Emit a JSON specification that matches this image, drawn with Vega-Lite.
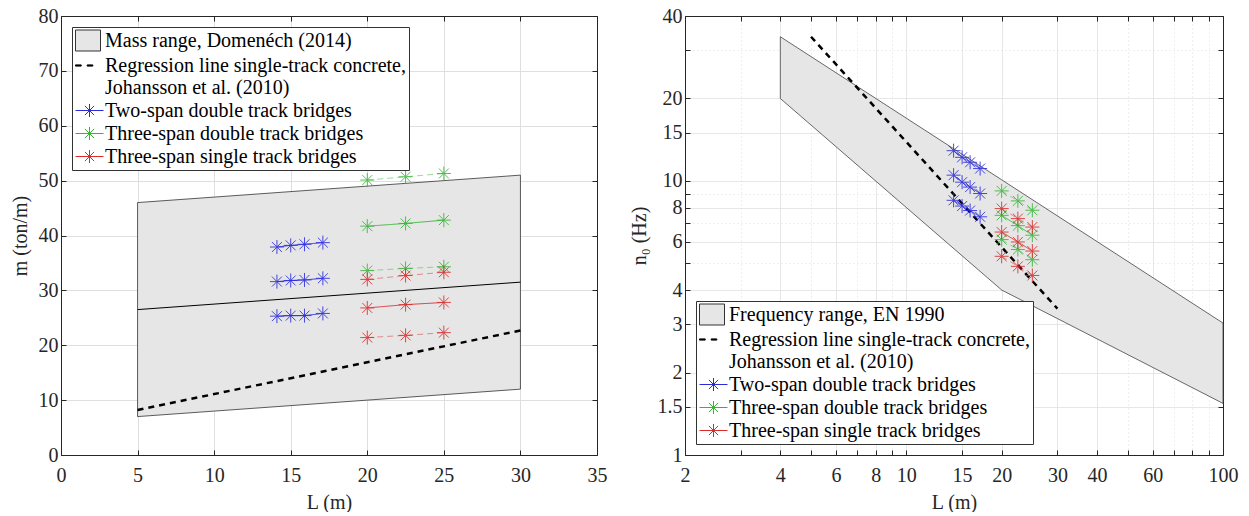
{
  "$schema": "https://vega.github.io/schema/vega-lite/v6.json",
  "padding": {"left": 10, "top": 6, "right": 5, "bottom": 0},
  "background": "white",
  "spacing": 22,
  "datasets": {
    "massRange": [
      {"L": 5, "upper": 46, "lower": 7},
      {"L": 30, "upper": 51, "lower": 12}
    ],
    "massMid": [
      {"L": 5, "m": 26.5},
      {"L": 30, "m": 31.5}
    ],
    "massReg": [
      {"L": 5, "m": 8.2},
      {"L": 30, "m": 22.7}
    ],
    "massPts": [
      {"series": "Two-span double track bridges", "mass": "low", "row": "b-low", "L": 14.1, "m": 25.3},
      {"series": "Two-span double track bridges", "mass": "low", "row": "b-low", "L": 15.0, "m": 25.4},
      {"series": "Two-span double track bridges", "mass": "low", "row": "b-low", "L": 15.9, "m": 25.4},
      {"series": "Two-span double track bridges", "mass": "low", "row": "b-low", "L": 17.1, "m": 25.8},
      {"series": "Two-span double track bridges", "mass": "mid", "row": "b-mid", "L": 14.1, "m": 31.6},
      {"series": "Two-span double track bridges", "mass": "mid", "row": "b-mid", "L": 15.0, "m": 31.8},
      {"series": "Two-span double track bridges", "mass": "mid", "row": "b-mid", "L": 15.9, "m": 31.9},
      {"series": "Two-span double track bridges", "mass": "mid", "row": "b-mid", "L": 17.1, "m": 32.2},
      {"series": "Two-span double track bridges", "mass": "high", "row": "b-high", "L": 14.1, "m": 37.9},
      {"series": "Two-span double track bridges", "mass": "high", "row": "b-high", "L": 15.0, "m": 38.2},
      {"series": "Two-span double track bridges", "mass": "high", "row": "b-high", "L": 15.9, "m": 38.4},
      {"series": "Two-span double track bridges", "mass": "high", "row": "b-high", "L": 17.1, "m": 38.7},
      {"series": "Three-span double track bridges", "mass": "low", "row": "g-low", "L": 20, "m": 33.6},
      {"series": "Three-span double track bridges", "mass": "low", "row": "g-low", "L": 22.5, "m": 34.0},
      {"series": "Three-span double track bridges", "mass": "low", "row": "g-low", "L": 25, "m": 34.3},
      {"series": "Three-span double track bridges", "mass": "mid", "row": "g-mid", "L": 20, "m": 41.7},
      {"series": "Three-span double track bridges", "mass": "mid", "row": "g-mid", "L": 22.5, "m": 42.2},
      {"series": "Three-span double track bridges", "mass": "mid", "row": "g-mid", "L": 25, "m": 42.8},
      {"series": "Three-span double track bridges", "mass": "high", "row": "g-high", "L": 20, "m": 50.1},
      {"series": "Three-span double track bridges", "mass": "high", "row": "g-high", "L": 22.5, "m": 50.7},
      {"series": "Three-span double track bridges", "mass": "high", "row": "g-high", "L": 25, "m": 51.3},
      {"series": "Three-span single track bridges", "mass": "low", "row": "r-low", "L": 20, "m": 21.4},
      {"series": "Three-span single track bridges", "mass": "low", "row": "r-low", "L": 22.5, "m": 21.8},
      {"series": "Three-span single track bridges", "mass": "low", "row": "r-low", "L": 25, "m": 22.3},
      {"series": "Three-span single track bridges", "mass": "mid", "row": "r-mid", "L": 20, "m": 26.8},
      {"series": "Three-span single track bridges", "mass": "mid", "row": "r-mid", "L": 22.5, "m": 27.4},
      {"series": "Three-span single track bridges", "mass": "mid", "row": "r-mid", "L": 25, "m": 27.8},
      {"series": "Three-span single track bridges", "mass": "high", "row": "r-high", "L": 20, "m": 32.0},
      {"series": "Three-span single track bridges", "mass": "high", "row": "r-high", "L": 22.5, "m": 32.7},
      {"series": "Three-span single track bridges", "mass": "high", "row": "r-high", "L": 25, "m": 33.3}
    ],
    "freqRange": [
      {"L": 4, "upper": 33.6, "lower": 20},
      {"L": 20, "upper": 10.1, "lower": 4},
      {"L": 100, "upper": 3.03, "lower": 1.543}
    ],
    "freqReg": [
      {"L": 5, "n": 33.6},
      {"L": 30, "n": 3.42}
    ],
    "freqPts": [
      {"series": "Two-span double track bridges", "mass": "low", "row": "b-low", "L": 14.1, "n": 12.9},
      {"series": "Two-span double track bridges", "mass": "low", "row": "b-low", "L": 15.0, "n": 12.2},
      {"series": "Two-span double track bridges", "mass": "low", "row": "b-low", "L": 15.9, "n": 11.7},
      {"series": "Two-span double track bridges", "mass": "low", "row": "b-low", "L": 17.1, "n": 11.1},
      {"series": "Two-span double track bridges", "mass": "mid", "row": "b-mid", "L": 14.1, "n": 10.5},
      {"series": "Two-span double track bridges", "mass": "mid", "row": "b-mid", "L": 15.0, "n": 9.9},
      {"series": "Two-span double track bridges", "mass": "mid", "row": "b-mid", "L": 15.9, "n": 9.5},
      {"series": "Two-span double track bridges", "mass": "mid", "row": "b-mid", "L": 17.1, "n": 9.0},
      {"series": "Two-span double track bridges", "mass": "high", "row": "b-high", "L": 14.1, "n": 8.5},
      {"series": "Two-span double track bridges", "mass": "high", "row": "b-high", "L": 15.0, "n": 8.1},
      {"series": "Two-span double track bridges", "mass": "high", "row": "b-high", "L": 15.9, "n": 7.8},
      {"series": "Two-span double track bridges", "mass": "high", "row": "b-high", "L": 17.1, "n": 7.4},
      {"series": "Three-span double track bridges", "mass": "low", "row": "g-low", "L": 20, "n": 9.2},
      {"series": "Three-span double track bridges", "mass": "low", "row": "g-low", "L": 22.5, "n": 8.46},
      {"series": "Three-span double track bridges", "mass": "low", "row": "g-low", "L": 25, "n": 7.82},
      {"series": "Three-span double track bridges", "mass": "mid", "row": "g-mid", "L": 20, "n": 7.49},
      {"series": "Three-span double track bridges", "mass": "mid", "row": "g-mid", "L": 22.5, "n": 6.87},
      {"series": "Three-span double track bridges", "mass": "mid", "row": "g-mid", "L": 25, "n": 6.34},
      {"series": "Three-span double track bridges", "mass": "high", "row": "g-high", "L": 20, "n": 6.11},
      {"series": "Three-span double track bridges", "mass": "high", "row": "g-high", "L": 22.5, "n": 5.62},
      {"series": "Three-span double track bridges", "mass": "high", "row": "g-high", "L": 25, "n": 5.16},
      {"series": "Three-span single track bridges", "mass": "low", "row": "r-low", "L": 20, "n": 7.93},
      {"series": "Three-span single track bridges", "mass": "low", "row": "r-low", "L": 22.5, "n": 7.29},
      {"series": "Three-span single track bridges", "mass": "low", "row": "r-low", "L": 25, "n": 6.79},
      {"series": "Three-span single track bridges", "mass": "mid", "row": "r-mid", "L": 20, "n": 6.51},
      {"series": "Three-span single track bridges", "mass": "mid", "row": "r-mid", "L": 22.5, "n": 5.99},
      {"series": "Three-span single track bridges", "mass": "mid", "row": "r-mid", "L": 25, "n": 5.55},
      {"series": "Three-span single track bridges", "mass": "high", "row": "r-high", "L": 20, "n": 5.31},
      {"series": "Three-span single track bridges", "mass": "high", "row": "r-high", "L": 22.5, "n": 4.88},
      {"series": "Three-span single track bridges", "mass": "high", "row": "r-high", "L": 25, "n": 4.52}
    ]
  },
  "hconcat": [
    {
      "width": 536,
      "height": 439,
      "layer": [
        {
          "layer": [
            {
              "data": {"name": "massRange"},
              "mark": {"type": "area", "fill": "#e6e6e6", "stroke": "#333333", "strokeWidth": 0.8},
              "encoding": {
                "x": {"field": "L", "type": "quantitative", "scale": {"domain": [0, 35], "nice": false},
                      "axis": {"orient": "bottom", "title": "L (m)", "values": [0, 5, 10, 15, 20, 25, 30, 35], "labelPadding": 15, "titlePadding": 7}},
                "y": {"field": "upper", "type": "quantitative", "scale": {"domain": [0, 80], "nice": false},
                      "axis": {"orient": "left", "title": "m (ton/m)", "values": [0, 10, 20, 30, 40, 50, 60, 70, 80], "labelPadding": 8, "titlePadding": 8}},
                "y2": {"field": "lower"}
              }
            },
            {
              "data": {"name": "massMid"},
              "mark": {"type": "line", "color": "#000000", "strokeWidth": 1},
              "encoding": {
                "x": {"field": "L", "type": "quantitative"},
                "y": {"field": "m", "type": "quantitative"}
              }
            },
            {
              "data": {"name": "massReg"},
              "mark": {"type": "line", "color": "#000000", "strokeWidth": 2.5, "strokeDash": [6, 5]},
              "encoding": {
                "x": {"field": "L", "type": "quantitative"},
                "y": {"field": "m", "type": "quantitative"}
              }
            },
            {
              "data": {"name": "massPts"},
              "mark": {"type": "line", "strokeWidth": 1},
              "encoding": {
                "x": {"field": "L", "type": "quantitative"},
                "y": {"field": "m", "type": "quantitative"},
                "detail": {"field": "row", "type": "nominal"},
                "stroke": {"field": "series", "type": "nominal", "legend": null,
                          "scale": {"domain": ["Two-span double track bridges", "Three-span double track bridges", "Three-span single track bridges"],
                                    "range": ["#2b2bdb", "#36b536", "#db2b2b"]}},
                "strokeDash": {"condition": {"test": "datum.series != 'Two-span double track bridges' && datum.mass != 'mid'", "value": [6, 4]}, "value": [1, 0]},
                "opacity": {"condition": {"test": "datum.series != 'Two-span double track bridges' && datum.mass != 'mid'", "value": 0.5}, "value": 0.9}
              }
            }
          ]
        },
        {
          "data": {"name": "massPts"},
          "mark": {"type": "point", "shape": "M-1,0L1,0M0,-1L0,1M-0.71,-0.71L0.71,0.71M-0.71,0.71L0.71,-0.71", "filled": false, "size": 196, "strokeWidth": 1, "opacity": 0.85},
          "encoding": {
            "x": {"field": "L", "type": "quantitative",
                  "axis": {"orient": "top", "title": null, "labels": false, "grid": false, "values": [0, 5, 10, 15, 20, 25, 30, 35]}},
            "y": {"field": "m", "type": "quantitative",
                  "axis": {"orient": "right", "title": null, "labels": false, "grid": false, "values": [0, 10, 20, 30, 40, 50, 60, 70, 80]}},
            "stroke": {"field": "series", "type": "nominal", "legend": null}
          }
        },
        {
          "data": {"name": "massPts"},
          "transform": [{"filter": "false"}],
          "mark": {"type": "point", "filled": false, "strokeWidth": 1},
          "encoding": {
            "color": {"field": "series", "type": "nominal",
                      "scale": {"domain": ["Mass range, Domenéch (2014)", "Regression line single-track concrete, Johansson et al. (2010)", "Two-span double track bridges", "Three-span double track bridges", "Three-span single track bridges"],
                                "range": ["#333333", "#000000", "#2b2bdb", "#36b536", "#db2b2b"]},
                      "legend": {"orient": "top-left", "offset": 11, "symbolOpacity": 1,
                                 "labelExpr": "datum.label == 'Regression line single-track concrete, Johansson et al. (2010)' ? ['Regression line single-track concrete,', 'Johansson et al. (2010)'] : datum.label"}},
            "fill": {"field": "series", "type": "nominal",
                     "scale": {"domain": ["Mass range, Domenéch (2014)", "Regression line single-track concrete, Johansson et al. (2010)", "Two-span double track bridges", "Three-span double track bridges", "Three-span single track bridges"],
                               "range": ["#e6e6e6", "#000000", "transparent", "transparent", "transparent"]},
                     "legend": {"orient": "top-left", "offset": 11, "symbolOpacity": 1,
                                "labelExpr": "datum.label == 'Regression line single-track concrete, Johansson et al. (2010)' ? ['Regression line single-track concrete,', 'Johansson et al. (2010)'] : datum.label"}},
            "shape": {"field": "series", "type": "nominal",
                      "scale": {"domain": ["Mass range, Domenéch (2014)", "Regression line single-track concrete, Johansson et al. (2010)", "Two-span double track bridges", "Three-span double track bridges", "Three-span single track bridges"],
                                "range": ["M-1,-1.05H1.5V1.05H-1Z", "M-1,-0.06H-0.43V0.06H-1ZM0.17,-0.06H0.73V0.06H0.17Z", "M-1,0H1.8M0.4,-0.65V0.65M-0.06,-0.46L0.86,0.46M-0.06,0.46L0.86,-0.46", "M-1,0H1.8M0.4,-0.65V0.65M-0.06,-0.46L0.86,0.46M-0.06,0.46L0.86,-0.46", "M-1,0H1.8M0.4,-0.65V0.65M-0.06,-0.46L0.86,0.46M-0.06,0.46L0.86,-0.46"]},
                      "legend": {"orient": "top-left", "offset": 11, "symbolOpacity": 1,
                                 "labelExpr": "datum.label == 'Regression line single-track concrete, Johansson et al. (2010)' ? ['Regression line single-track concrete,', 'Johansson et al. (2010)'] : datum.label"}}
          }
        }
      ],
      "resolve": {"axis": {"x": "independent", "y": "independent"}}
    },
    {
      "width": 538,
      "height": 439,
      "layer": [
        {
          "layer": [
            {
              "data": {"name": "freqRange"},
              "mark": {"type": "area", "fill": "#e6e6e6", "stroke": "#444444", "strokeWidth": 0.8},
              "encoding": {
                "x": {"field": "L", "type": "quantitative", "scale": {"type": "log", "domain": [2, 100], "nice": false},
                      "axis": {"orient": "bottom", "title": "L (m)", "labelPadding": 15, "titlePadding": 7,
                               "values": [2, 3, 4, 5, 6, 7, 8, 9, 10, 15, 20, 30, 40, 50, 60, 70, 80, 90, 100],
                               "labelExpr": "indexof([2, 4, 6, 8, 10, 15, 20, 30, 40, 60, 100], datum.value) >= 0 ? format(datum.value, '~g') : ''",
                               "gridDash": {"condition": {"test": "indexof([2, 4, 6, 8, 10, 15, 20, 30, 40, 60, 100], datum.value) < 0", "value": [1, 3]}, "value": [1, 0]}}},
                "y": {"field": "upper", "type": "quantitative", "scale": {"type": "log", "domain": [1, 40], "nice": false},
                      "axis": {"orient": "left", "title": "n₀ (Hz)", "labelPadding": 8, "titlePadding": 8,
                               "values": [1, 1.5, 2, 3, 4, 5, 6, 7, 8, 9, 10, 15, 20, 30, 40],
                               "labelExpr": "indexof([1, 1.5, 2, 3, 4, 6, 8, 10, 15, 20, 40], datum.value) >= 0 ? format(datum.value, '~g') : ''",
                               "gridDash": {"condition": {"test": "indexof([1, 1.5, 2, 3, 4, 6, 8, 10, 15, 20, 40], datum.value) < 0", "value": [1, 3]}, "value": [1, 0]}}},
                "y2": {"field": "lower"}
              }
            },
            {
              "data": {"name": "freqReg"},
              "mark": {"type": "line", "color": "#000000", "strokeWidth": 2.5, "strokeDash": [6, 5]},
              "encoding": {
                "x": {"field": "L", "type": "quantitative"},
                "y": {"field": "n", "type": "quantitative"}
              }
            },
            {
              "data": {"name": "freqPts"},
              "mark": {"type": "line", "strokeWidth": 1},
              "encoding": {
                "x": {"field": "L", "type": "quantitative"},
                "y": {"field": "n", "type": "quantitative"},
                "detail": {"field": "row", "type": "nominal"},
                "stroke": {"field": "series", "type": "nominal", "legend": null,
                          "scale": {"domain": ["Two-span double track bridges", "Three-span double track bridges", "Three-span single track bridges"],
                                    "range": ["#2b2bdb", "#36b536", "#db2b2b"]}},
                "strokeDash": {"condition": {"test": "datum.series != 'Two-span double track bridges' && datum.mass != 'mid'", "value": [6, 4]}, "value": [1, 0]},
                "opacity": {"condition": {"test": "datum.series != 'Two-span double track bridges' && datum.mass != 'mid'", "value": 0.5}, "value": 0.9}
              }
            }
          ]
        },
        {
          "data": {"name": "freqPts"},
          "mark": {"type": "point", "shape": "M-1,0L1,0M0,-1L0,1M-0.71,-0.71L0.71,0.71M-0.71,0.71L0.71,-0.71", "filled": false, "size": 196, "strokeWidth": 1, "opacity": 0.85},
          "encoding": {
            "x": {"field": "L", "type": "quantitative",
                  "axis": {"orient": "top", "title": null, "labels": false, "grid": false,
                           "values": [2, 3, 4, 5, 6, 7, 8, 9, 10, 15, 20, 30, 40, 50, 60, 70, 80, 90, 100]}},
            "y": {"field": "n", "type": "quantitative",
                  "axis": {"orient": "right", "title": null, "labels": false, "grid": false,
                           "values": [1, 1.5, 2, 3, 4, 5, 6, 7, 8, 9, 10, 15, 20, 30, 40]}},
            "stroke": {"field": "series", "type": "nominal", "legend": null}
          }
        },
        {
          "data": {"name": "freqPts"},
          "transform": [{"filter": "false"}],
          "mark": {"type": "point", "filled": false, "strokeWidth": 1},
          "encoding": {
            "color": {"field": "series", "type": "nominal",
                      "scale": {"domain": ["Frequency range, EN 1990", "Regression line single-track concrete, Johansson et al. (2010)", "Two-span double track bridges", "Three-span double track bridges", "Three-span single track bridges"],
                                "range": ["#333333", "#000000", "#2b2bdb", "#36b536", "#db2b2b"]},
                      "legend": {"orient": "bottom-left", "offset": 11, "symbolOpacity": 1,
                                 "labelExpr": "datum.label == 'Regression line single-track concrete, Johansson et al. (2010)' ? ['Regression line single-track concrete,', 'Johansson et al. (2010)'] : datum.label"}},
            "fill": {"field": "series", "type": "nominal",
                     "scale": {"domain": ["Frequency range, EN 1990", "Regression line single-track concrete, Johansson et al. (2010)", "Two-span double track bridges", "Three-span double track bridges", "Three-span single track bridges"],
                               "range": ["#e6e6e6", "#000000", "transparent", "transparent", "transparent"]},
                     "legend": {"orient": "bottom-left", "offset": 11, "symbolOpacity": 1,
                                "labelExpr": "datum.label == 'Regression line single-track concrete, Johansson et al. (2010)' ? ['Regression line single-track concrete,', 'Johansson et al. (2010)'] : datum.label"}},
            "shape": {"field": "series", "type": "nominal",
                      "scale": {"domain": ["Frequency range, EN 1990", "Regression line single-track concrete, Johansson et al. (2010)", "Two-span double track bridges", "Three-span double track bridges", "Three-span single track bridges"],
                                "range": ["M-1,-1.05H1.5V1.05H-1Z", "M-1,-0.06H-0.43V0.06H-1ZM0.17,-0.06H0.73V0.06H0.17Z", "M-1,0H1.8M0.4,-0.65V0.65M-0.06,-0.46L0.86,0.46M-0.06,0.46L0.86,-0.46", "M-1,0H1.8M0.4,-0.65V0.65M-0.06,-0.46L0.86,0.46M-0.06,0.46L0.86,-0.46", "M-1,0H1.8M0.4,-0.65V0.65M-0.06,-0.46L0.86,0.46M-0.06,0.46L0.86,-0.46"]},
                      "legend": {"orient": "bottom-left", "offset": 11, "symbolOpacity": 1,
                                 "labelExpr": "datum.label == 'Regression line single-track concrete, Johansson et al. (2010)' ? ['Regression line single-track concrete,', 'Johansson et al. (2010)'] : datum.label"}}
          }
        }
      ],
      "resolve": {"axis": {"x": "independent", "y": "independent"}}
    }
  ],
  "resolve": {"scale": {"x": "independent", "y": "independent", "color": "independent", "stroke": "independent", "fill": "independent", "shape": "independent"}},
  "config": {
    "font": "Liberation Serif",
    "view": {"stroke": null},
    "axis": {
      "labelFont": "Liberation Serif", "labelFontSize": 20, "labelColor": "#262626",
      "titleFont": "Liberation Serif", "titleFontSize": 20, "titleFontWeight": "normal", "titleColor": "#262626",
      "domainColor": "#262626", "domainWidth": 1, "tickColor": "#262626", "tickSize": -5, "tickWidth": 1,
      "gridColor": "#dfdfdf", "gridWidth": 1, "labelFlush": false, "labelOverlap": false
    },
    "legend": {
      "title": null,
      "padding": 3,
      "rowPadding": 2,
      "symbolSize": 400,
      "symbolStrokeWidth": 1,
      "symbolOpacity": 1,
      "labelFont": "Liberation Serif",
      "labelFontSize": 20,
      "labelColor": "#000000",
      "labelLimit": 1000,
      "labelOffset": 9,
      "strokeColor": "#333333",
      "fillColor": "white"
    }
  }
}
